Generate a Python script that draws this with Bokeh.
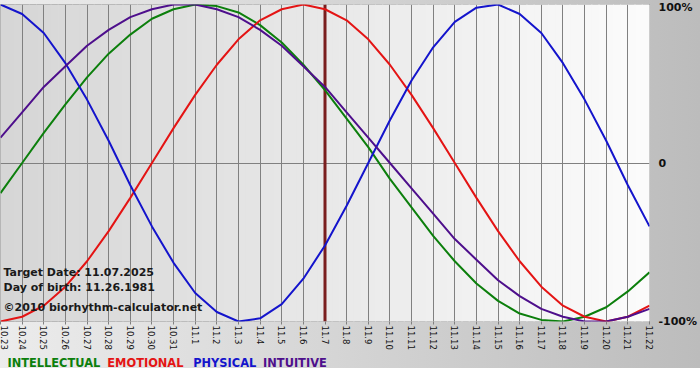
import numpy as np
from bokeh.plotting import figure
from bokeh.layouts import column
from bokeh.models import FixedTicker, Label, Span, Range1d
from bokeh.core.properties import value
from bokeh.embed import file_html
from bokeh.resources import INLINE

# ---- data ----
dates = ["10.23", "10.24", "10.25", "10.26", "10.27", "10.28", "10.29", "10.30", "10.31",
         "11.1", "11.2", "11.3", "11.4", "11.5", "11.6", "11.7", "11.8", "11.9", "11.10",
         "11.11", "11.12", "11.13", "11.14", "11.15", "11.16", "11.17", "11.18", "11.19",
         "11.20", "11.21", "11.22"]

intellectual = [-0.19, 0.00, 0.19, 0.37, 0.54, 0.69, 0.81, 0.91, 0.97, 1.00, 0.99, 0.95,
                0.87, 0.76, 0.62, 0.46, 0.28, 0.10, -0.10, -0.28, -0.46, -0.62, -0.76,
                -0.87, -0.95, -0.99, -1.00, -0.97, -0.91, -0.81, -0.69]
emotional = [-1.00, -0.97, -0.90, -0.78, -0.62, -0.43, -0.22, 0.00, 0.22, 0.43, 0.62, 0.78,
             0.90, 0.97, 1.00, 0.97, 0.90, 0.78, 0.62, 0.43, 0.22, 0.00, -0.22, -0.43,
             -0.62, -0.78, -0.90, -0.97, -1.00, -0.97, -0.90]
physical = [1.00, 0.94, 0.82, 0.63, 0.40, 0.14, -0.14, -0.40, -0.63, -0.82, -0.94, -1.00,
            -0.98, -0.89, -0.73, -0.52, -0.27, 0.00, 0.27, 0.52, 0.73, 0.89, 0.98, 1.00,
            0.94, 0.82, 0.63, 0.40, 0.14, -0.14, -0.40]
intuitive = [0.16, 0.32, 0.48, 0.61, 0.74, 0.84, 0.92, 0.97, 1.00, 1.00, 0.97, 0.92, 0.84,
             0.74, 0.61, 0.48, 0.32, 0.16, 0.00, -0.16, -0.32, -0.48, -0.61, -0.74, -0.84,
             -0.92, -0.97, -1.00, -1.00, -0.97, -0.92]

series_names = ["INTELLECTUAL", "EMOTIONAL", "PHYSICAL", "INTUITIVE"]
target_day = "11.7"
y_ticks = [-1, 0, 1]
y_tick_labels = ["-100%", "0", "100%"]
info_lines = ["Target Date: 11.07.2025", "Day of birth: 11.26.1981", "\u00a92010 biorhythm-calculator.net"]

# ---- styling ----
colors = {"INTELLECTUAL": "#0c7f0c", "EMOTIONAL": "#e41414", "PHYSICAL": "#1414cc", "INTUITIVE": "#4e0f8c"}
FONT = "DejaVu Sans"
MAIN_H = 352
LEG_H = 28
FRAME_W = 650
RIGHT_B = 50

xs = list(range(len(dates)))
n = len(dates) - 1

p = figure(width=FRAME_W + RIGHT_B, height=MAIN_H, output_backend="svg", toolbar_location=None,
           x_range=Range1d(0, n), y_range=Range1d(-1.0, 1.0),
           y_axis_location="right",
           min_border_left=0, min_border_top=4, min_border_bottom=31, min_border_right=RIGHT_B)
p.border_fill_alpha = 0
p.background_fill_alpha = 0
p.outline_line_color = "#808080"
p.outline_line_width = 1
p.styles = {"background": "linear-gradient(to right, #ececec, #bcbcbc)"}

# plot-area horizontal gradient (pure styling)
nstrip = 90
edges = np.linspace(0, n, nstrip + 1)
c0 = np.array([214, 214, 214])
c1 = np.array([252, 252, 252])
strip_cols = []
for k in range(nstrip):
    t = (k + 0.5) / nstrip
    c = (c0 + (c1 - c0) * t).astype(int)
    strip_cols.append("#%02x%02x%02x" % tuple(c))
bg = p.quad(left=edges[:-1], right=edges[1:], bottom=-1.0, top=1.0,
            fill_color=strip_cols, line_color=strip_cols, line_width=1)
bg.level = "image"

# grids
p.xgrid.ticker = FixedTicker(ticks=xs)
p.xgrid.grid_line_color = "#808080"
p.xgrid.grid_line_width = 1
p.ygrid.ticker = FixedTicker(ticks=[0])
p.ygrid.grid_line_color = "#808080"
p.ygrid.grid_line_width = 1

# target date line
tline = Span(location=dates.index(target_day), dimension="height",
             line_color="#7a1e1e", line_width=3, level="underlay")
p.add_layout(tline)

# curves
for name, vals in zip(series_names, [intellectual, emotional, physical, intuitive]):
    p.line(xs, vals, line_color=colors[name], line_width=2)

# x axis
p.xaxis.ticker = FixedTicker(ticks=xs)
p.xaxis.major_label_overrides = {i: d for i, d in enumerate(dates)}
p.xaxis.major_label_orientation = -np.pi / 2
p.xaxis.major_label_text_font = FONT
p.xaxis.major_label_text_font_size = "8.5px"
p.xaxis.major_label_text_color = "#111111"
p.xaxis.axis_line_color = None
p.xaxis.major_tick_line_color = "#808080"
p.xaxis.major_tick_out = 3
p.xaxis.major_tick_in = 0
p.xaxis.minor_tick_line_color = None
p.xaxis.major_label_standoff = 1

# y axis (right)
p.yaxis.ticker = FixedTicker(ticks=y_ticks)
p.yaxis.major_label_overrides = {t: l for t, l in zip(y_ticks, y_tick_labels)}
p.yaxis.major_label_text_font = FONT
p.yaxis.major_label_text_font_style = "bold"
p.yaxis.major_label_text_font_size = "11px"
p.yaxis.major_label_text_color = "#111111"
p.yaxis.axis_line_color = None
p.yaxis.major_tick_line_color = None
p.yaxis.minor_tick_line_color = None
p.yaxis.major_tick_out = 0
p.yaxis.major_tick_in = 0
p.yaxis.major_label_standoff = 9

# info text inside the plot (screen units measured from the frame's lower-left corner)
for txt, yy in zip(info_lines, [49, 34, 14]):
    p.add_layout(Label(x=3, y=yy, x_units="screen", y_units="screen", text=txt,
                       text_font=FONT, text_font_style="bold", text_font_size="11px",
                       text_color="#1a1a1a", text_baseline="middle"))

# legend strip below the chart (pixel-mapped ranges, frame same width as the chart frame)
leg = figure(width=FRAME_W + RIGHT_B, height=LEG_H, output_backend="svg", toolbar_location=None,
             x_range=Range1d(0, FRAME_W), y_range=Range1d(0, LEG_H),
             x_axis_location=None, y_axis_location=None,
             min_border_left=0, min_border_top=0, min_border_bottom=0, min_border_right=RIGHT_B)
leg.border_fill_alpha = 0
leg.background_fill_alpha = 0
leg.outline_line_color = None
leg.grid.visible = False
leg.styles = {"background": "linear-gradient(to bottom, rgba(255,255,255,0) 16px, #ffffff 16px), "
                            "linear-gradient(to right, #ececec, #bcbcbc)"}
leg.text(x=[7, 107, 193, 263], y=[LEG_H - 10] * 4, text=series_names,
         text_color=[colors[s] for s in series_names],
         text_font=value(FONT), text_font_style="bold", text_font_size="11.4px",
         text_baseline="middle", text_align="left")

layout = column(p, leg, spacing=0)
open("out.html", "w").write(file_html(layout, INLINE))
